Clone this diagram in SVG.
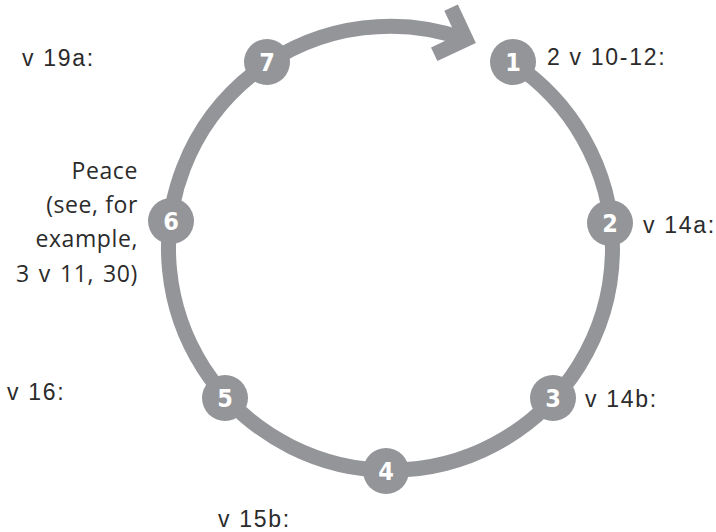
<svg xmlns="http://www.w3.org/2000/svg" width="716" height="532" viewBox="0 0 716 532">
<style>
.ring{fill:none;stroke:#939598;stroke-width:15}
.node circle{fill:#939598}
.num{fill:#fff;font-family:"DejaVu Sans Condensed","DejaVu Sans",sans-serif;font-weight:bold;font-size:25px;text-anchor:middle}
.lbl{fill:#2b2b2b;font-family:"Liberation Sans",Arial,sans-serif;font-size:23px;letter-spacing:1.7px}
.peace{fill:#2b2b2b;font-family:"Open Sans","Liberation Sans",sans-serif;font-size:23px;letter-spacing:0.6px;text-anchor:end}
</style>
<rect width="716" height="532" fill="#fff"/>
<g id="connectors">
<path class="ring" d="M512.6,62.8 A222,222 0 1 1 465.9,39.4"/>
<polyline class="ring" stroke-linejoin="miter" points="451.1,7.7 465.9,39.4 434.2,54.2"/>
</g>
<g id="n1" class="node"><circle cx="513" cy="62" r="23"/><text class="num" x="513" y="71">1</text></g>
<g id="n2" class="node"><circle cx="610" cy="223" r="23"/><text class="num" x="610" y="232">2</text></g>
<g id="n3" class="node"><circle cx="553" cy="398" r="23"/><text class="num" x="553" y="407">3</text></g>
<g id="n4" class="node"><circle cx="386" cy="471" r="23"/><text class="num" x="386" y="480">4</text></g>
<g id="n5" class="node"><circle cx="225" cy="398" r="23"/><text class="num" x="225" y="407">5</text></g>
<g id="n6" class="node"><circle cx="171" cy="221" r="23"/><text class="num" x="171" y="230">6</text></g>
<g id="n7" class="node"><circle cx="267" cy="62" r="23"/><text class="num" x="267" y="71">7</text></g>
<g id="labels">
<text class="lbl" x="547" y="65">2 v 10-12:</text>
<text class="lbl" x="643" y="233">v 14a:</text>
<text class="lbl" x="585" y="407">v 14b:</text>
<text class="lbl" x="218" y="527">v 15b:</text>
<text class="lbl" x="7" y="400">v 16:</text>
<text class="lbl" x="22" y="66">v 19a:</text>
<text class="peace" x="138" y="179">Peace</text>
<text class="peace" x="138" y="213">(see, for</text>
<text class="peace" x="138" y="247">example,</text>
<text class="peace" x="138" y="282" letter-spacing="1.3" word-spacing="2.5">3 v 11, 30)</text>
</g>
</svg>
